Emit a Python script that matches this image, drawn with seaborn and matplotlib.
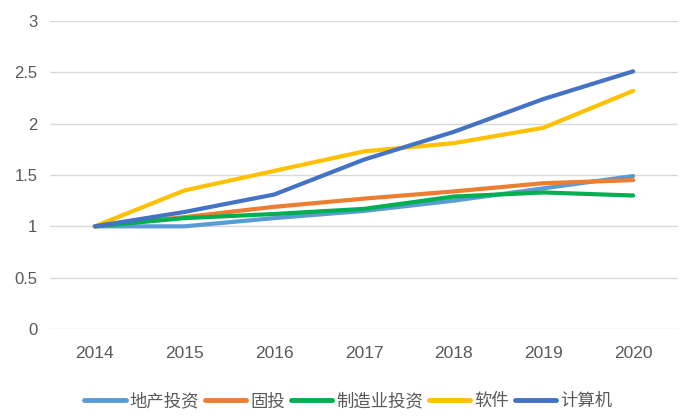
import matplotlib
matplotlib.use("Agg")
import matplotlib.pyplot as plt
import seaborn as sns
import pandas as pd

years = ["2014", "2015", "2016", "2017", "2018", "2019", "2020"]
series_names = ["地产投资", "固投", "制造业投资", "软件", "计算机"]
real_estate = [1.00, 1.00, 1.08, 1.15, 1.25, 1.37, 1.49]
fixed_inv = [1.00, 1.09, 1.19, 1.27, 1.34, 1.42, 1.45]
manufacturing = [1.00, 1.08, 1.12, 1.17, 1.29, 1.33, 1.30]
software = [1.00, 1.35, 1.54, 1.73, 1.81, 1.96, 2.32]
computer = [1.00, 1.14, 1.31, 1.65, 1.92, 2.24, 2.51]
colors = ["#5B9BD5", "#ED7D31", "#00B050", "#FFC000", "#4472C4"]

values = [real_estate, fixed_inv, manufacturing, software, computer]
rows = []
for name, vals in zip(series_names, values):
    for y, v in zip(years, vals):
        rows.append({"year": y, "series": name, "value": v})
df = pd.DataFrame(rows)

sns.set_theme(style="white")
plt.rcParams['font.family'] = ['Noto Sans CJK SC', 'DejaVu Sans']

fig = plt.figure(figsize=(7, 4.2), dpi=100)
ax = fig.add_axes([0.0714, 0.2167, 0.8972, 0.7333])

sns.lineplot(data=df, x="year", y="value", hue="series", hue_order=series_names,
             palette=colors, linewidth=3, ax=ax, sort=False, solid_capstyle="round")

ax.set_xlim(-0.5, 6.5)
ax.set_ylim(0, 3)
ax.set_yticks([0, 0.5, 1, 1.5, 2, 2.5, 3])
ax.set_yticklabels(["0", "0.5", "1", "1.5", "2", "2.5", "3"])
ax.yaxis.grid(True, color="#D9D9D9", linewidth=1)
ax.set_axisbelow(True)
for s in ax.spines.values():
    s.set_visible(False)
ax.tick_params(axis="y", length=0, labelsize=12, colors="#595959", pad=9)
ax.tick_params(axis="x", length=0, labelsize=12.5, colors="#595959", pad=12)
for lab in ax.get_xticklabels() + ax.get_yticklabels():
    lab.set_family(["Liberation Sans", "DejaVu Sans"])
ax.set_xlabel("")
ax.set_ylabel("")

leg = ax.legend(loc="center", bbox_to_anchor=(0.475, -0.235), ncol=5, frameon=False,
                handlelength=2.4, columnspacing=0.3, handletextpad=0.25, fontsize=12.5)
for t in leg.get_texts():
    t.set_color("#595959")
for h in leg.get_lines():
    h.set_linewidth(3.5)
    h.set_solid_capstyle("round")

fig.savefig("out.png", dpi=100, facecolor="white")
